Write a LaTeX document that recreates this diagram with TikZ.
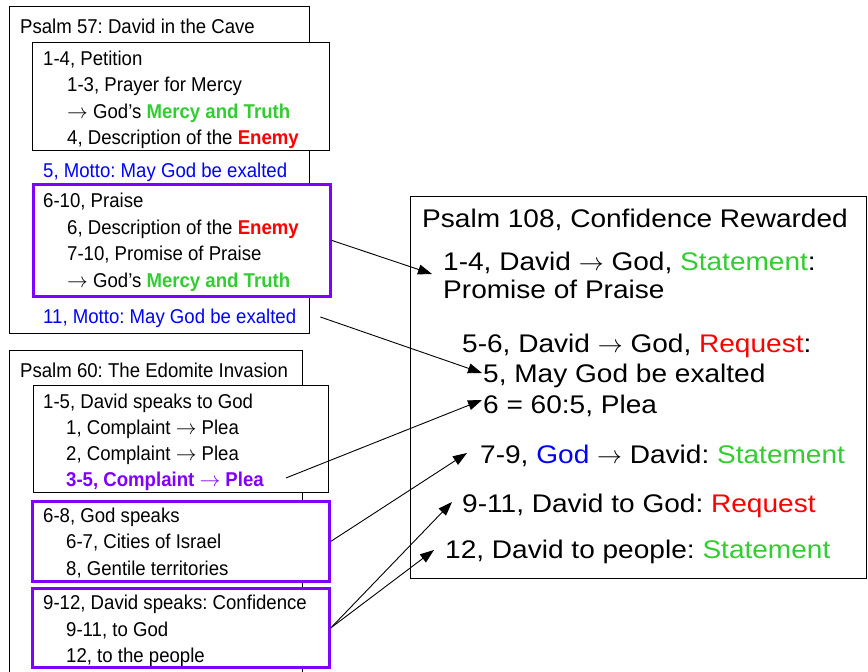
\documentclass[tikz,border=0pt]{standalone}
\usepackage{fontspec}
\setmainfont{Liberation Sans}
\newfontfamily\lfont[FakeStretch=0.93]{Liberation Sans}
\newfontfamily\rfont[FakeStretch=1.1]{Liberation Sans}
\usetikzlibrary{arrows.meta,calc}
\definecolor{pgreen}{RGB}{51,204,51}
\definecolor{pred}{RGB}{255,0,0}
\definecolor{pblue}{RGB}{0,0,255}
\definecolor{ppurple}{RGB}{128,0,255}
\newcommand{\ra}{$\rightarrow$}
\frenchspacing
\begin{document}
\begin{tikzpicture}[x=1pt,y=-1pt,
  box/.style={draw=black,fill=white,line width=1.3pt,inner sep=0,anchor=north west},
  pbox/.style={draw=ppurple,fill=white,line width=2.8pt,inner sep=0,anchor=north west},
  ltxt/.style={anchor=base west,inner sep=0,font=\lfont\fontsize{20}{24}\selectfont},
  rtxt/.style={anchor=base west,inner sep=0,font=\rfont\fontsize{25.5}{30}\selectfont},
  link/.style={line width=0.9pt,-{Triangle[length=14pt,width=10pt]}},
]
\useasboundingbox (0,0) rectangle (868,672);

% outer boxes
\node[box,minimum width=300pt,minimum height=327pt] (p57) at (9,6) {};
\node[box,minimum width=293pt,minimum height=340pt] (p60) at (9,350) {};
\node[box,minimum width=456pt,minimum height=382pt] (p108) at (410,196) {};

% inner boxes
\node[box,minimum width=297pt,minimum height=108pt] (p57a) at (32,42) {};
\node[pbox,minimum width=297pt,minimum height=112pt] (p57b) at (32,183) {};
\node[box,minimum width=295pt,minimum height=107pt] (p60a) at (33,385) {};
\node[pbox,minimum width=297pt,minimum height=80pt] (p60b) at (31,500) {};
\node[pbox,minimum width=297pt,minimum height=79pt] (p60c) at (31,587) {};

% Psalm 57
\node[ltxt] (t57) at (20,33) {Psalm 57: David in the Cave};
\node[ltxt] (t14) at (43,65) {1-4, Petition};
\node[ltxt] (t13) at (67,91.5) {1-3, Prayer for Mercy};
\node[ltxt] (tmt1) at (67,118) {\ra{} God’s \textcolor{pgreen}{\bfseries Mercy and Truth}};
\node[ltxt] (t4) at (67,144) {4, Description of the \textcolor{pred}{\bfseries Enemy}};
\node[ltxt,text=pblue] (t5m) at (43,177) {5, Motto: May God be exalted};
\node[ltxt] (t610) at (43,207) {6-10, Praise};
\node[ltxt] (t6) at (67,234) {6, Description of the \textcolor{pred}{\bfseries Enemy}};
\node[ltxt] (t710) at (67,260) {7-10, Promise of Praise};
\node[ltxt] (tmt2) at (67,287) {\ra{} God’s \textcolor{pgreen}{\bfseries Mercy and Truth}};
\node[ltxt,text=pblue] (t11m) at (43,323) {11, Motto: May God be exalted};

% Psalm 60
\node[ltxt] (t60) at (20,377) {Psalm 60: The Edomite Invasion};
\node[ltxt] (t15) at (43,408) {1-5, David speaks to God};
\node[ltxt] (t1) at (66,434) {1, Complaint \ra{} Plea};
\node[ltxt] (t2) at (66,460) {2, Complaint \ra{} Plea};
\node[ltxt,text=ppurple] (t35) at (66,486) {\bfseries 3-5, Complaint \ra{} Plea};
\node[ltxt] (t68) at (43,522) {6-8, God speaks};
\node[ltxt] (t67) at (66,548) {6-7, Cities of Israel};
\node[ltxt] (t8) at (66,575) {8, Gentile territories};
\node[ltxt] (t912) at (43,609) {9-12, David speaks: Confidence};
\node[ltxt] (t911) at (66,636) {9-11, to God};
\node[ltxt] (t12) at (66,662) {12, to the people};

% Psalm 108
\node[rtxt] (r0) at (422,227) {Psalm 108, Confidence Rewarded};
\node[rtxt] (r14) at (443,270) {1-4, David \ra{} God, \textcolor{pgreen}{Statement}:};
\node[rtxt] (r14b) at (443,298) {Promise of Praise};
\node[rtxt] (r56) at (462,352) {5-6, David \ra{} God, \textcolor{pred}{Request}:};
\node[rtxt] (r5) at (483,382) {5, May God be exalted};
\node[rtxt] (r6) at (483,413) {6 = 60:5, Plea};
\node[rtxt] (r79) at (480,463) {7-9, \textcolor{pblue}{God} \ra{} David: \textcolor{pgreen}{Statement}};
\node[rtxt] (r911) at (462,512) {9-11, David to God: \textcolor{pred}{Request}};
\node[rtxt] (r12) at (445,558) {12, David to people: \textcolor{pgreen}{Statement}};

% connectors
\draw[link] (p57b.east) -- ($(r14.base west)+(-11,4)$);
\draw[link] ($(t11m.base east)+(24,-6)$) -- ($(r5.base west)+(-1,-9)$);
\draw[link] ($(t35.base east)+(22,-8)$) -- ($(r6.base west)+(-1,-13)$);
\draw[link] (p60b.east) -- ($(r79.base west)+(-13,-10)$);
\draw[link] (p60c.east) -- ($(r911.base west)+(-10,-10)$);
\draw[link] (p60c.east) -- ($(r12.base west)+(-11,-8)$);
\end{tikzpicture}
\end{document}
